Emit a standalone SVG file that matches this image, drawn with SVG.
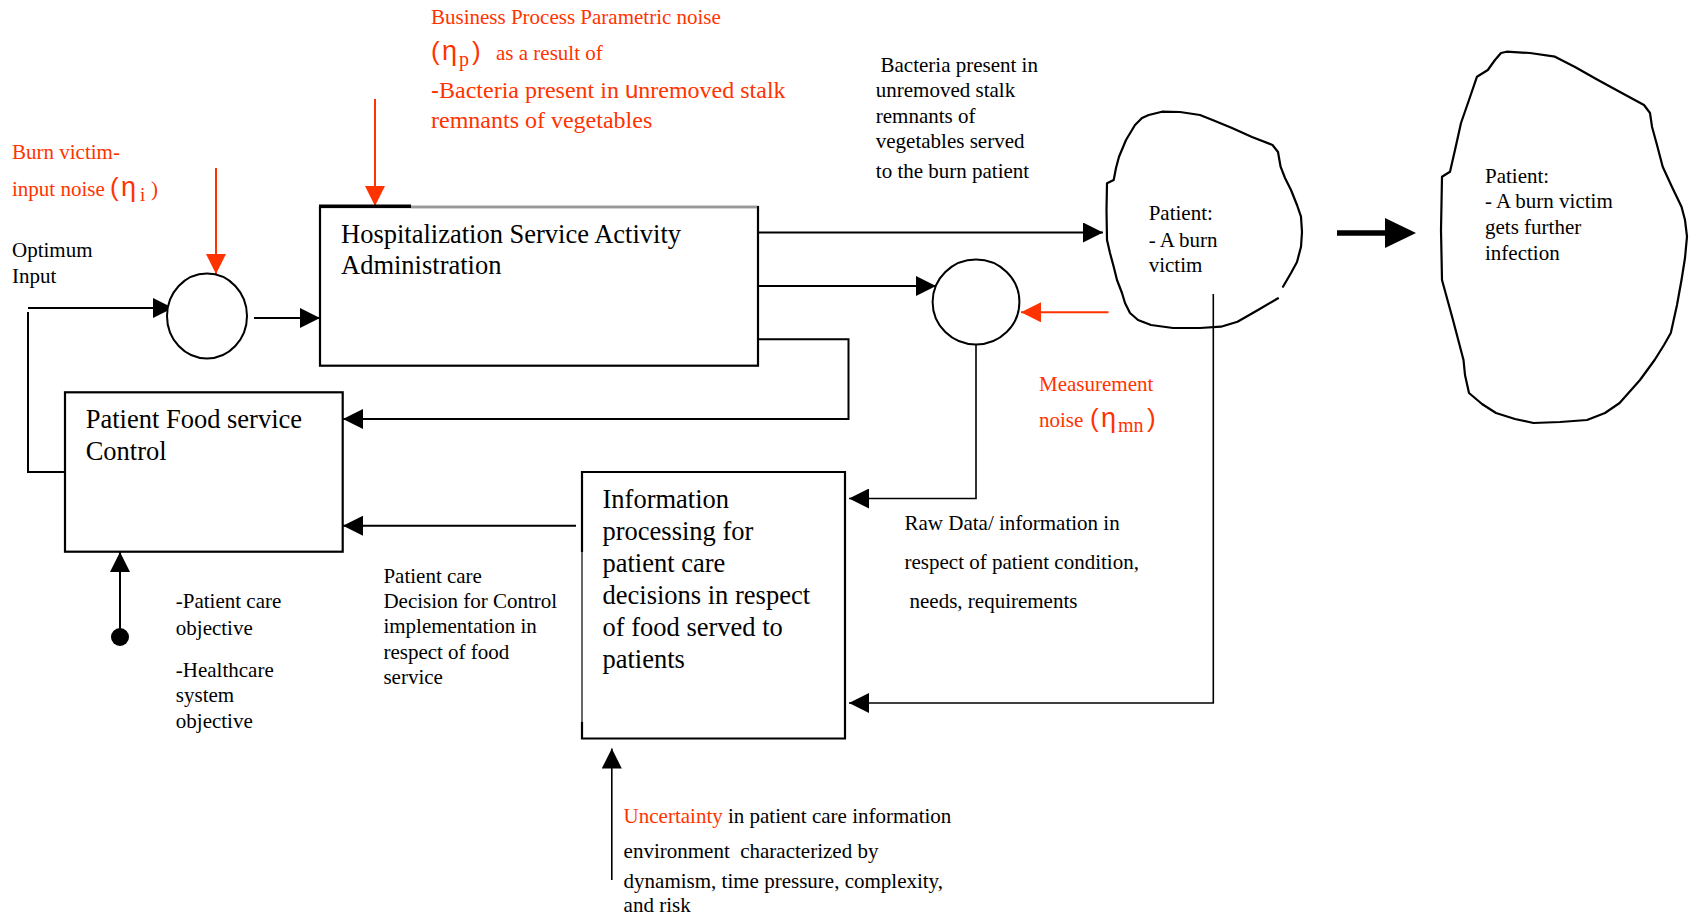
<svg xmlns="http://www.w3.org/2000/svg" width="1694" height="918" viewBox="0 0 1694 918">
  <style>
    text { font-family: "Liberation Serif", "Times New Roman", serif; font-size: 21px; fill: #000; }
    .big { font-size: 26.5px; }
    .mid { font-size: 24px; }
    .red { fill: #ff3300; }
    .sym { font-family: "Liberation Sans", Arial, sans-serif; }
    .box { fill: #fff; stroke: #000; stroke-width: 2.2; }
    .sum { fill: #fff; stroke: #000; stroke-width: 2; }
    .blob { fill: none; stroke: #000; stroke-width: 2.2; stroke-linejoin: round; stroke-linecap: round; }
    .wire { fill: none; stroke: #000; stroke-width: 2; }
    .thin { fill: none; stroke: #000; stroke-width: 1.6; }
    .noise { fill: none; stroke: #ff3300; stroke-width: 2; }
  </style>
  <defs>
    <marker id="ah" markerUnits="userSpaceOnUse" markerWidth="20" markerHeight="20" refX="20" refY="10" orient="auto">
      <path d="M0,0 L20,10 L0,20 Z" fill="#000"/>
    </marker>
    <marker id="ahr" markerUnits="userSpaceOnUse" markerWidth="20" markerHeight="20" refX="20" refY="10" orient="auto">
      <path d="M0,0 L20,10 L0,20 Z" fill="#ff3300"/>
    </marker>
  </defs>

  <rect width="1694" height="918" fill="#fff"/>

  <!-- connectors -->
  <g id="connectors">
    <path class="wire" d="M28,308 H173" marker-end="url(#ah)"/>
    <path class="wire" d="M65,472 H28 V312"/>
    <path class="wire" d="M254,318 H320" marker-end="url(#ah)"/>
    <path class="noise" d="M216,168 V274" marker-end="url(#ahr)"/>
    <path class="noise" d="M375,99 V206" marker-end="url(#ahr)"/>
    <path class="wire" d="M758,232.5 H1103" marker-end="url(#ah)"/>
    <path class="wire" d="M758,286 H936" marker-end="url(#ah)"/>
    <path class="noise" d="M1108.5,312.3 H1021" marker-end="url(#ahr)"/>
    <path class="wire" d="M758,339.3 H848.5 V419 H343" marker-end="url(#ah)"/>
    <path class="thin" d="M976,344.3 V498.5 H849" marker-end="url(#ah)"/>
    <path class="thin" d="M1213.3,294 V703 H849" marker-end="url(#ah)"/>
    <path class="wire" d="M576,525.7 H343" marker-end="url(#ah)"/>
    <circle cx="120" cy="637" r="9" fill="#000"/>
    <path class="wire" d="M120,637 V552" marker-end="url(#ah)"/>
    <path class="thin" d="M611.8,880 V748.5" marker-end="url(#ah)"/>
    <!-- heavy transition arrow -->
    <path d="M1337,233 H1388" stroke="#000" stroke-width="5.5" fill="none"/>
    <polygon points="1385,218 1416,233 1385,248" fill="#000"/>
  </g>

  <!-- process parametric noise label -->
  <g id="noise-p">
    <text class="red" x="431" y="24">Business Process Parametric noise</text>
    <text class="red" y="59.5"><tspan class="sym" x="431" font-size="26">(</tspan><tspan class="sym" x="442" font-size="27">η</tspan><tspan x="459" dy="6" font-size="20">p</tspan><tspan class="sym" x="472" dy="-6" font-size="26">)</tspan><tspan x="496">as a result of</tspan></text>
    <text class="red mid" x="431" y="98"><tspan class="sym">-</tspan>Bacteria present in <tspan class="sym">u</tspan>nremoved stalk</text>
    <text class="red mid" x="431" y="127.5">remnants of vegetables</text>
  </g>

  <!-- input noise label -->
  <g id="noise-i">
    <text class="red" x="12" y="159">Burn victim-</text>
    <text class="red" y="195.5"><tspan x="12">input noise</tspan><tspan class="sym" x="110" font-size="26">(</tspan><tspan class="sym" x="121" font-size="27">η</tspan><tspan x="140" dy="5" font-size="19">i</tspan><tspan x="151" dy="-5">)</tspan></text>
  </g>

  <g id="optimum-input">
    <text x="12" y="257">Optimum</text>
    <text x="12" y="283">Input</text>
  </g>

  <!-- summing junction at plant input -->
  <g id="sum-input">
    <ellipse class="sum" cx="207" cy="316" rx="40" ry="42.5"/>
  </g>

  <g id="hospitalization">
    <rect class="box" x="320" y="207" width="438" height="158.7"/>
    <path d="M411,207 H757" stroke="#999" stroke-width="2.4" fill="none"/>
    <path d="M319,205.6 H411" stroke="#000" stroke-width="2.2" fill="none"/>
    <text class="big" x="341" y="242.7">Hospitalization Service Activity</text>
    <text class="big" x="341" y="274">Administration</text>
  </g>

  <g id="food-control">
    <rect class="box" x="65" y="392.3" width="277.7" height="159.4"/>
    <text class="big" x="85.7" y="428.3">Patient Food service</text>
    <text class="big" x="85.7" y="460">Control</text>
  </g>

  <g id="info-processing">
    <rect x="582" y="472" width="263" height="266.5" fill="#fff"/>
    <path d="M582,552 V472 H845 V738.5 H582 V722" fill="none" stroke="#000" stroke-width="2.2"/>
    <path d="M582,552 V722" fill="none" stroke="#000" stroke-width="1.2"/>
    <text class="big" x="602.5" y="508">Information</text>
    <text class="big" x="602.5" y="540">processing for</text>
    <text class="big" x="602.5" y="572">patient care</text>
    <text class="big" x="602.5" y="604">decisions in respect</text>
    <text class="big" x="602.5" y="636">of food served to</text>
    <text class="big" x="602.5" y="667.5">patients</text>
  </g>

  <!-- measurement summing junction -->
  <g id="sum-measure">
    <ellipse class="sum" cx="976" cy="302" rx="43.4" ry="42.5"/>
  </g>

  <g id="bacteria-label">
    <text x="880.5" y="71.7">Bacteria present in</text>
    <text x="875.8" y="96.7">unremoved stalk</text>
    <text x="875.8" y="122.7">remnants of</text>
    <text x="875.8" y="148.3">vegetables served</text>
    <text x="875.8" y="178.3">to the burn patient</text>
  </g>

  <g id="patient">
    <path class="blob" d="M1278,298.3 L1258,310 L1237.5,321.7 L1221,326.7 L1200,328 L1173,328 L1151,325 L1138,320 L1130,313 L1125,303 L1122,293 L1117,280 L1113.7,266.7 L1110,253 L1107,240 L1106.5,210 L1107,183.3 L1113.7,180 L1116,168 L1119,156.7 L1126,140 L1135,125 L1142,118 L1148.7,115 L1162,111.7 L1180,112 L1200,115 L1215,121 L1232,128 L1252,137 L1272.5,145 L1278,152 L1280.6,166.7 L1285,178 L1291,190 L1297,205 L1301,216.7 L1302,232 L1301,246.7 L1297,262 L1291,273 L1283,286.7"/>
    <text x="1148.7" y="220">Patient:</text>
    <text x="1148.7" y="246.7">- A burn</text>
    <text x="1148.7" y="271.7">victim</text>
  </g>

  <g id="patient-infected">
    <path class="blob" d="M1501,53 L1506.6,51.7 L1530,53 L1555,56.7 L1575,67 L1598,80 L1620,92 L1644,105 L1650,113 L1652,126.7 L1657,145 L1662.7,166.7 L1672,187 L1681.5,206.7 L1685,220 L1687,236.7 L1685,258 L1681.5,280 L1677,305 L1670.8,333 L1664,345 L1654.6,360 L1640,380 L1619.6,403 L1605,413 L1587,420 L1560,422 L1533.5,423 L1515,419 L1496,413 L1482,404 L1469,393 L1465,375 L1463.5,360 L1453,320 L1442,280 L1441,230 L1442,176.7 L1450,171.7 L1455,150 L1461,123 L1469,100 L1477,76.7 L1487.8,70 L1495,60 Z"/>
    <text x="1485" y="183.3">Patient:</text>
    <text x="1485" y="208.3">- A burn victim</text>
    <text x="1485" y="234.3">gets further</text>
    <text x="1485" y="260">infection</text>
  </g>

  <g id="noise-mn">
    <text class="red" x="1039" y="391">Measurement</text>
    <text class="red" y="427"><tspan x="1039">noise</tspan><tspan class="sym" x="1090" font-size="26">(</tspan><tspan class="sym" x="1101" font-size="27">η</tspan><tspan x="1118" dy="5" font-size="20">mn</tspan><tspan class="sym" x="1147" dy="-5" font-size="26">)</tspan></text>
  </g>

  <g id="raw-data-label">
    <text x="904.5" y="530">Raw Data/ information in</text>
    <text x="904.5" y="569.3">respect of patient condition,</text>
    <text x="909.5" y="608.3">needs, requirements</text>
  </g>

  <g id="objectives-label">
    <text x="175.8" y="608.3">-Patient care</text>
    <text x="175.8" y="635">objective</text>
    <text x="175.8" y="676.7">-Healthcare</text>
    <text x="175.8" y="701.7">system</text>
    <text x="175.8" y="727.7">objective</text>
  </g>

  <g id="decision-label">
    <text x="383.4" y="582.7">Patient care</text>
    <text x="383.4" y="608.3">Decision for Control</text>
    <text x="383.4" y="633.3">implementation in</text>
    <text x="383.4" y="659.3">respect of food</text>
    <text x="383.4" y="684.3">service</text>
  </g>

  <g id="uncertainty-label">
    <text x="623.6" y="823.3"><tspan class="red">Uncertainty</tspan> in patient care information</text>
    <text x="623.6" y="858.3" style="white-space:pre">environment  characterized by</text>
    <text x="623.6" y="888.3">dynamism, time pressure, complexity,</text>
    <text x="623.6" y="911.7">and risk</text>
  </g>
</svg>
